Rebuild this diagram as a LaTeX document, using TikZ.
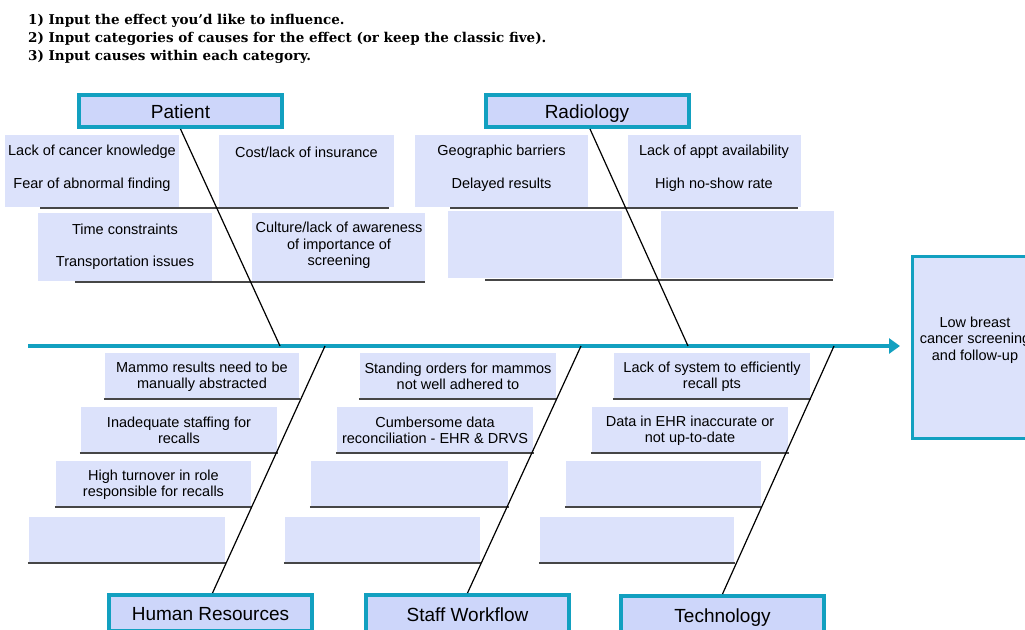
\documentclass[tikz,border=0pt]{standalone}
\usepackage{fontspec}
\setmainfont{Liberation Sans}
\newfontfamily\titlefont{DejaVu Serif}
\usetikzlibrary{arrows.meta,fit}
\definecolor{teal1}{RGB}{18,160,192}
\definecolor{catfill}{RGB}{205,214,250}
\definecolor{causefill}{RGB}{220,226,251}
\definecolor{ulinec}{RGB}{70,70,70}
\begin{document}
\begin{tikzpicture}[x=1pt,y=-1pt,
  catbox/.style={draw=teal1, line width=4pt, fill=catfill, inner sep=0pt, minimum width=203pt, minimum height=32pt, text height=19.5pt, text depth=4pt, font=\fontsize{19}{22}\selectfont},
  causebox/.style={fill=causefill, inner sep=0pt},
  causetext/.style={font=\fontsize{14.5}{16.5}\selectfont, align=center, inner sep=0pt},
  uline/.style={draw=ulinec, line width=1.6pt},
  bone/.style={draw=black, line width=1.2pt},
  spine/.style={draw=teal1, line width=3.5pt, -{Triangle[length=11pt,width=15pt]}},
  effectbox/.style={draw=teal1, line width=3pt, fill=causefill, inner sep=0pt, minimum width=126pt, minimum height=182pt}
  ]
\useasboundingbox (0,0) rectangle (1025,629);
\fill[white] (0,0) rectangle (1025,629);
\clip (0,0) rectangle (1025,629);

% title
\node[anchor=north west, align=left, inner sep=0pt, font=\titlefont\bfseries\fontsize{13.5}{18}\selectfont] (title) at (28,14)
 {1) Input the effect you’d like to influence.\\
  2) Input categories of causes for the effect (or keep the classic five).\\
  3) Input causes within each category.};

% ---------- Patient group ----------
\node[causebox, fit={(5,135) (179,207)}] (pa1) {};
\node[causebox, fit={(219,135) (394,207)}] (pa2) {};
\node[causebox, fit={(38,213) (212,281)}] (pa3) {};
\node[causebox, fit={(252,213) (425,281)}] (pa4) {};
\draw[uline] (40,208) -- (389,208);
\draw[uline] (75,282) -- (425,282);
\node[causetext] (pa1a) at (92,152) {Lack of cancer knowledge};
\node[causetext] (pa1b) at (92,185) {Fear of abnormal finding};
\node[causetext] (pa2a) at (306.5,152) {Cost/lack of insurance};
\node[causetext] (pa3a) at (125,229) {Time constraints};
\node[causetext] (pa3b) at (125,263) {Transportation issues};
\node[causetext] (pa4a) at (339,245.5) {Culture/lack of awareness\\of importance of\\screening};

% ---------- Radiology group ----------
\node[causebox, fit={(415,135) (588,207)}] (ra1) {};
\node[causebox, fit={(628,135) (801,207)}] (ra2) {};
\node[causebox, fit={(448,211) (622,278)}] (ra3) {};
\node[causebox, fit={(661,211) (834,278)}] (ra4) {};
\draw[uline] (450,208) -- (798,208);
\draw[uline] (485,280) -- (833,280);
\node[causetext] (ra1a) at (501.5,152) {Geographic barriers};
\node[causetext] (ra1b) at (501.5,185) {Delayed results};
\node[causetext] (ra2a) at (714,152) {Lack of appt availability};
\node[causetext] (ra2b) at (714,185) {High no-show rate};

% ---------- Human Resources group ----------
\node[causebox, fit={(105,353) (299,398)}] (hr1) {};
\node[causebox, fit={(81,407) (277,452)}] (hr2) {};
\node[causebox, fit={(56,461) (251,506)}] (hr3) {};
\node[causebox, fit={(29,517) (225,562)}] (hr4) {};
\foreach \b in {hr1,hr2,hr3,hr4}{\draw[uline] ([xshift=-1pt,yshift=-1pt]\b.south west) -- ([xshift=1pt,yshift=-1pt]\b.south east);}
\node[causetext] (hr1t) at ([yshift=-1pt]hr1.center) {Mammo results need to be\\manually abstracted};
\node[causetext] (hr2t) at ([yshift=-1pt]hr2.center) {Inadequate staffing for\\recalls};
\node[causetext] (hr3t) at ([yshift=-1pt]hr3.center) {High turnover in role\\responsible for recalls};

% ---------- Staff Workflow group ----------
\node[causebox, fit={(360,353) (556,398)}] (sw1) {};
\node[causebox, fit={(337,407) (533,452)}] (sw2) {};
\node[causebox, fit={(311,461) (508,506)}] (sw3) {};
\node[causebox, fit={(285,517) (480,562)}] (sw4) {};
\foreach \b in {sw1,sw2,sw3,sw4}{\draw[uline] ([xshift=-1pt,yshift=-1pt]\b.south west) -- ([xshift=1pt,yshift=-1pt]\b.south east);}
\node[causetext] (sw1t) at ([yshift=-1pt]sw1.center) {Standing orders for mammos\\not well adhered to};
\node[causetext] (sw2t) at ([yshift=-1pt]sw2.center) {Cumbersome data\\reconciliation - EHR \& DRVS};

% ---------- Technology group ----------
\node[causebox, fit={(614,353) (810,398)}] (te1) {};
\node[causebox, fit={(592,407) (788,452)}] (te2) {};
\node[causebox, fit={(566,461) (761,506)}] (te3) {};
\node[causebox, fit={(540,517) (734,562)}] (te4) {};
\foreach \b in {te1,te2,te3,te4}{\draw[uline] ([xshift=-1pt,yshift=-1pt]\b.south west) -- ([xshift=1pt,yshift=-1pt]\b.south east);}
\node[causetext] (te1t) at ([yshift=-1pt]te1.center) {Lack of system to efficiently\\recall pts};
\node[causetext] (te2t) at ([yshift=-1pt]te2.center) {Data in EHR inaccurate or\\not up-to-date};

% ---------- categories ----------
\node[catbox] (patient) at (180.5,111) {Patient};
\node[catbox] (radiology) at (587,111) {Radiology};
\node[catbox, minimum height=36pt] (hr) at (210.5,613) {Human Resources};
\node[catbox, minimum height=38pt] (sw) at (467.5,614) {Staff Workflow};
\node[catbox, minimum height=38pt] (tech) at (722.5,615) {Technology};

% ---------- effect ----------
\node[effectbox] (effect) at (975.5,347.5) {};
\node[causetext] (efft) at (975,340) {Low breast\\cancer screening\\and follow-up};

% ---------- spine and bones ----------
\coordinate (spineL) at (28,346);
\coordinate (spineR) at (900,346);
\coordinate (bPat) at (280,346);
\coordinate (bRad) at (688,346);
\coordinate (bHR) at (325,346);
\coordinate (bSW) at (581,346);
\coordinate (bTech) at (834,346);
\draw[spine] (spineL) -- (spineR);
\draw[bone] (patient.south) -- (bPat);
\draw[bone] ([xshift=3pt]radiology.south) -- (bRad);
\draw[bone] ([xshift=2pt]hr.north) -- (bHR);
\draw[bone] (sw.north) -- (bSW);
\draw[bone] (tech.north) -- (bTech);
\end{tikzpicture}
\end{document}
